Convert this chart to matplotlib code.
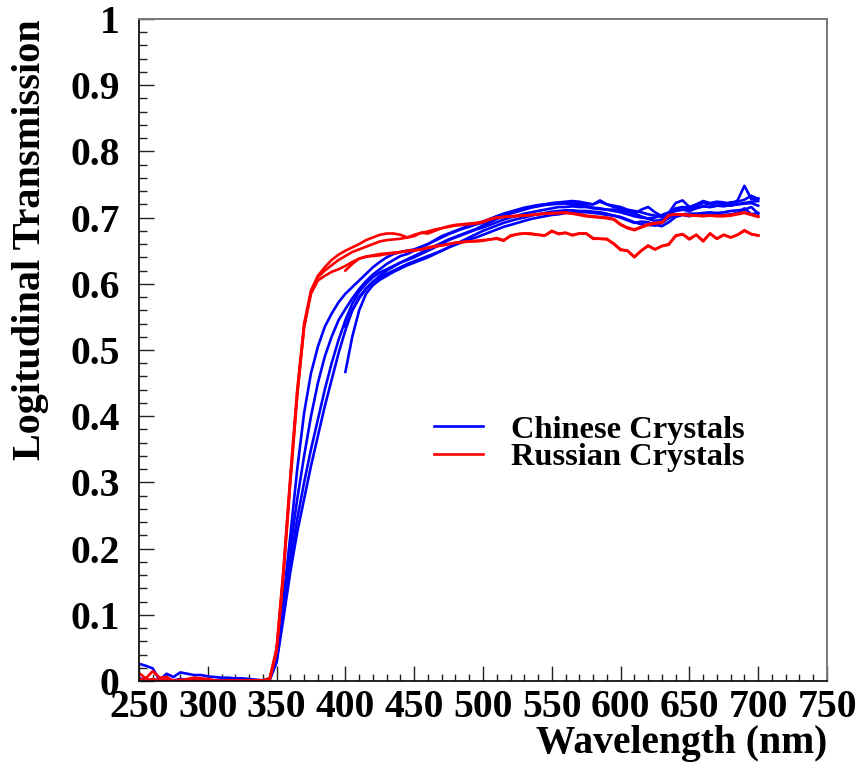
import numpy as np
import matplotlib
matplotlib.use("Agg")
import matplotlib.pyplot as plt
from matplotlib.ticker import MultipleLocator, FixedLocator, FixedFormatter

# ---------------- data ----------------
wl_full = list(range(250, 701, 5))   # 91 points, 250..700 nm
wl_400 = list(range(400, 701, 5))    # 61 points, 400..700 nm

chinese_b1 = [
    0.026, 0.023, 0.019, 0.001, 0.011, 0.006, 0.013, 0.011, 0.009, 0.009,
    0.007, 0.006, 0.005, 0.005, 0.004, 0.004, 0.003, 0.002, 0.001, 0.004,
    0.040, 0.125, 0.220, 0.320, 0.405, 0.465, 0.505, 0.535, 0.555, 0.572,
    0.585, 0.595, 0.605, 0.615, 0.625, 0.633, 0.640, 0.645, 0.648, 0.650,
    0.652, 0.656, 0.660, 0.666, 0.672, 0.676, 0.680, 0.684, 0.688, 0.690,
    0.692, 0.697, 0.702, 0.705, 0.708, 0.710, 0.713, 0.716, 0.718, 0.720,
    0.722, 0.723, 0.724, 0.725, 0.724, 0.722, 0.720, 0.724, 0.720, 0.718,
    0.716, 0.712, 0.710, 0.708, 0.705, 0.703, 0.701, 0.706, 0.714, 0.716,
    0.715, 0.718, 0.722, 0.720, 0.722, 0.721, 0.723, 0.724, 0.727, 0.733,
    0.728]
chinese_b2 = [
    0.004, 0.002, 0.000, 0.001, 0.002, 0.001, 0.003, 0.002, 0.001, 0.002,
    0.001, 0.001, 0.002, 0.001, 0.001, 0.000, 0.001, 0.001, 0.000, 0.003,
    0.035, 0.115, 0.200, 0.275, 0.340, 0.400, 0.450, 0.490, 0.520, 0.545,
    0.562, 0.578, 0.592, 0.604, 0.614, 0.622, 0.630, 0.636, 0.642, 0.645,
    0.650, 0.655, 0.660, 0.665, 0.670, 0.675, 0.679, 0.683, 0.686, 0.690,
    0.694, 0.698, 0.702, 0.706, 0.709, 0.712, 0.715, 0.717, 0.719, 0.720,
    0.721, 0.722, 0.721, 0.720, 0.718, 0.717, 0.715, 0.714, 0.712, 0.712,
    0.711, 0.709, 0.706, 0.702, 0.698, 0.695, 0.697, 0.705, 0.711, 0.712,
    0.710, 0.714, 0.717, 0.716, 0.718, 0.719, 0.718, 0.720, 0.722, 0.724,
    0.725]
chinese_b3 = [
    0.003, 0.002, 0.001, 0.000, 0.001, 0.000, 0.002, 0.001, 0.002, 0.001,
    0.001, 0.001, 0.000, 0.001, 0.000, 0.001, 0.000, 0.001, 0.000, 0.002,
    0.030, 0.105, 0.180, 0.245, 0.300, 0.350, 0.395, 0.440, 0.480, 0.515,
    0.545, 0.570, 0.588, 0.600, 0.610, 0.617, 0.622, 0.627, 0.632, 0.636,
    0.640, 0.645, 0.650, 0.655, 0.660, 0.666, 0.670, 0.674, 0.678, 0.682,
    0.685, 0.689, 0.693, 0.697, 0.700, 0.703, 0.706, 0.708, 0.710, 0.712,
    0.714, 0.716, 0.716, 0.717, 0.716, 0.716, 0.714, 0.713, 0.712, 0.710,
    0.708, 0.705, 0.702, 0.700, 0.699, 0.700, 0.704, 0.708, 0.710, 0.712,
    0.713, 0.715, 0.717, 0.716, 0.718, 0.717, 0.719, 0.720, 0.721, 0.722,
    0.718]
chinese_b4 = [
    0.002, 0.001, 0.000, 0.001, 0.000, 0.001, 0.000, 0.001, 0.000, 0.001,
    0.000, 0.001, 0.000, 0.000, 0.001, 0.000, 0.000, 0.000, 0.000, 0.002,
    0.028, 0.095, 0.165, 0.225, 0.275, 0.325, 0.370, 0.415, 0.455, 0.495,
    0.530, 0.560, 0.580, 0.593, 0.603, 0.610, 0.615, 0.620, 0.625, 0.630,
    0.634, 0.638, 0.642, 0.646, 0.650, 0.655, 0.659, 0.663, 0.667, 0.670,
    0.674, 0.678, 0.682, 0.686, 0.689, 0.692, 0.695, 0.698, 0.700, 0.702,
    0.704, 0.705, 0.707, 0.708, 0.708, 0.708, 0.707, 0.706, 0.704, 0.703,
    0.701, 0.697, 0.693, 0.690, 0.689, 0.688, 0.692, 0.699, 0.704, 0.705,
    0.706, 0.706, 0.707, 0.708, 0.707, 0.708, 0.710, 0.711, 0.712, 0.716,
    0.706]
chinese_b5 = [
    0.535, 0.560, 0.578, 0.592, 0.603, 0.612, 0.620, 0.626, 0.632, 0.637,
    0.642, 0.647, 0.652, 0.657, 0.662, 0.667, 0.671, 0.675, 0.679, 0.683,
    0.688, 0.693, 0.698, 0.702, 0.706, 0.709, 0.712, 0.715, 0.717, 0.719,
    0.720, 0.721, 0.722, 0.722, 0.721, 0.720, 0.720, 0.726, 0.720, 0.716,
    0.714, 0.710, 0.706, 0.712, 0.716, 0.708, 0.702, 0.707, 0.722, 0.726,
    0.716, 0.720, 0.725, 0.722, 0.724, 0.723, 0.720, 0.726, 0.748, 0.728,
    0.729]
chinese_b6 = [
    0.467, 0.520, 0.560, 0.585, 0.598, 0.606, 0.612, 0.618, 0.623, 0.628,
    0.632, 0.636, 0.640, 0.645, 0.650, 0.655, 0.660, 0.665, 0.670, 0.675,
    0.680, 0.684, 0.688, 0.692, 0.695, 0.698, 0.700, 0.703, 0.705, 0.707,
    0.709, 0.710, 0.711, 0.711, 0.710, 0.710, 0.709, 0.708, 0.706, 0.703,
    0.700, 0.696, 0.692, 0.694, 0.693, 0.689, 0.687, 0.693, 0.701, 0.704,
    0.702, 0.705, 0.704, 0.706, 0.705, 0.704, 0.705, 0.707, 0.714, 0.705,
    0.707]

russian_r1 = [
    0.012, 0.004, 0.015, 0.005, 0.006, 0.000, 0.000, 0.003, 0.005, 0.004,
    0.003, 0.001, 0.000, 0.000, 0.000, 0.001, 0.001, 0.001, 0.001, 0.004,
    0.050, 0.170, 0.310, 0.440, 0.540, 0.590, 0.612, 0.625, 0.636, 0.644,
    0.650, 0.655, 0.660, 0.666, 0.670, 0.674, 0.676, 0.676, 0.674, 0.670,
    0.672, 0.677, 0.676, 0.680, 0.684, 0.687, 0.689, 0.690, 0.691, 0.692,
    0.694, 0.698, 0.700, 0.701, 0.702, 0.702, 0.703, 0.704, 0.705, 0.706,
    0.707, 0.707, 0.708, 0.706, 0.704, 0.702, 0.701, 0.700, 0.699, 0.697,
    0.689, 0.684, 0.681, 0.685, 0.689, 0.691, 0.692, 0.704, 0.705, 0.704,
    0.703, 0.703, 0.702, 0.703, 0.702, 0.702, 0.703, 0.705, 0.707, 0.704,
    0.701]
russian_r2 = [
    0.003, 0.001, 0.002, 0.000, 0.001, 0.000, 0.002, 0.001, 0.000, 0.001,
    0.001, 0.000, 0.000, 0.001, 0.000, 0.000, 0.000, 0.001, 0.000, 0.003,
    0.045, 0.160, 0.300, 0.430, 0.535, 0.588, 0.610, 0.620, 0.628, 0.636,
    0.642, 0.648, 0.652, 0.656, 0.660, 0.664, 0.666, 0.667, 0.668, 0.670,
    0.674, 0.677, 0.679, 0.682, 0.684, 0.686, 0.688, 0.689, 0.690, 0.691,
    0.693, 0.697, 0.700, 0.701, 0.702, 0.703, 0.703, 0.704, 0.705, 0.706,
    0.706, 0.707, 0.707, 0.706, 0.705, 0.703, 0.702, 0.701, 0.700, 0.698,
    0.690, 0.685, 0.682, 0.686, 0.690, 0.692, 0.693, 0.703, 0.705, 0.705,
    0.704, 0.703, 0.703, 0.703, 0.703, 0.703, 0.704, 0.706, 0.708, 0.705,
    0.702]
russian_r3 = [
    0.002, 0.001, 0.003, 0.001, 0.002, 0.001, 0.000, 0.002, 0.004, 0.003,
    0.002, 0.001, 0.000, 0.000, 0.001, 0.000, 0.000, 0.000, 0.000, 0.003,
    0.045, 0.165, 0.305, 0.435, 0.535, 0.585, 0.605, 0.612, 0.618, 0.622,
    0.627, 0.633, 0.638, 0.641, 0.643, 0.645, 0.646, 0.647, 0.648, 0.649,
    0.650, 0.652, 0.654, 0.656, 0.658, 0.660, 0.662, 0.663, 0.664, 0.664,
    0.665, 0.667, 0.668, 0.665, 0.673, 0.675, 0.676, 0.675, 0.674, 0.673,
    0.680, 0.675, 0.677, 0.673, 0.676, 0.676, 0.668, 0.668, 0.668, 0.660,
    0.651, 0.650, 0.640, 0.650, 0.658, 0.652, 0.657, 0.659, 0.673, 0.675,
    0.667, 0.674, 0.664, 0.676, 0.668, 0.674, 0.670, 0.674, 0.681, 0.675,
    0.673]
russian_r4 = [
    0.620, 0.630, 0.638, 0.641, 0.642, 0.643, 0.645, 0.646, 0.648, 0.650,
    0.651, 0.652, 0.655, 0.657, 0.658, 0.660, 0.662, 0.663, 0.664, 0.665,
    0.666, 0.667, 0.669, 0.666, 0.672, 0.675, 0.676, 0.676, 0.674, 0.673,
    0.679, 0.676, 0.677, 0.674, 0.676, 0.676, 0.669, 0.668, 0.667, 0.661,
    0.652, 0.650, 0.641, 0.650, 0.657, 0.652, 0.657, 0.660, 0.672, 0.675,
    0.668, 0.674, 0.665, 0.676, 0.668, 0.674, 0.670, 0.674, 0.680, 0.675,
    0.673]

chinese_full = [chinese_b1, chinese_b2, chinese_b3, chinese_b4]
chinese_short = [chinese_b5, chinese_b6]
russian_full = [russian_r1, russian_r2, russian_r3]
russian_short = [russian_r4]

legend_labels = ["Chinese Crystals", "Russian Crystals"]
x_ticks = [250, 300, 350, 400, 450, 500, 550, 600, 650, 700, 750]
y_ticks = [0, 0.1, 0.2, 0.3, 0.4, 0.5, 0.6, 0.7, 0.8, 0.9, 1.0]
y_tick_labels = ["0", "0.1", "0.2", "0.3", "0.4", "0.5", "0.6", "0.7", "0.8", "0.9", "1"]

# ---------------- figure ----------------
SERIF = ["Liberation Serif", "DejaVu Serif"]
plt.rcParams["font.family"] = SERIF
plt.rcParams["font.weight"] = "bold"

fig = plt.figure(figsize=(8.61, 7.65), dpi=100)
ax = fig.add_axes([139 / 861, 1 - 681 / 765, 688 / 861, 662 / 765])

BLUE = "#0000ff"
RED = "#ff0000"
LW = 1.9

hb = None
for ys in chinese_full:
    hb, = ax.plot(wl_full, ys, color=BLUE, lw=LW)
for ys in chinese_short:
    ax.plot(wl_400, ys, color=BLUE, lw=LW)
hr = None
for ys in russian_full:
    hr, = ax.plot(wl_full, ys, color=RED, lw=LW)
for ys in russian_short:
    ax.plot(wl_400, ys, color=RED, lw=LW)

ax.set_xlim(250, 750)
ax.set_ylim(0, 1)

ax.xaxis.set_major_locator(FixedLocator(x_ticks))
ax.xaxis.set_minor_locator(MultipleLocator(10))
ax.yaxis.set_major_locator(FixedLocator(y_ticks))
ax.yaxis.set_major_formatter(FixedFormatter(y_tick_labels))
ax.yaxis.set_minor_locator(MultipleLocator(0.02))

ax.tick_params(which="both", direction="in", top=False, right=False,
               width=1.0, color="#222222")
ax.tick_params(which="major", length=10.8)
ax.tick_params(which="minor", length=5.4)
ax.tick_params(axis="x", which="major", labelsize=28.5, pad=6)
ax.tick_params(axis="y", which="major", labelsize=28.5, pad=14)
for lab in ax.get_xticklabels() + ax.get_yticklabels():
    lab.set_fontweight("bold")

for side in ["left", "bottom"]:
    ax.spines[side].set_color("#111111")
    ax.spines[side].set_linewidth(1.3)
for side in ["top", "right"]:
    ax.spines[side].set_color("#777777")
    ax.spines[side].set_linewidth(1.4)

ax.set_xlabel("Wavelength (nm)", loc="right", fontsize=28.5, fontweight="bold", labelpad=-1)
ax.set_ylabel("Logitudinal Transmission", loc="top", fontsize=29, fontweight="bold", labelpad=15)

leg = ax.legend([hb, hr], legend_labels, loc="center left",
                bbox_to_anchor=((434 - 139) / 688, (681 - 443.5) / 662),
                frameon=False, handlelength=1.5,
                handletextpad=0.87, labelspacing=-0.08, borderpad=0,
                borderaxespad=0, prop={"weight": "bold", "size": 23.3})

fig.savefig("out.png", dpi=100)
